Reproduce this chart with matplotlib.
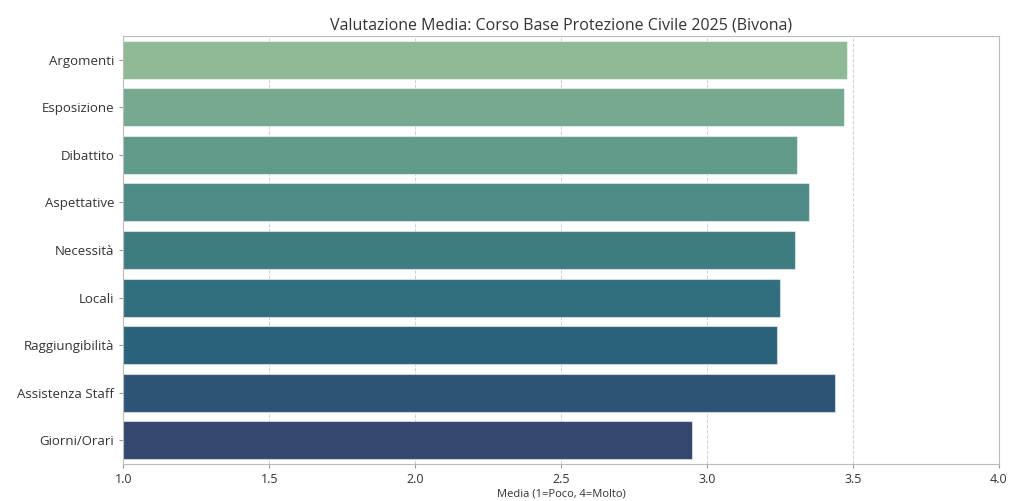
import matplotlib
matplotlib.use("Agg")
import matplotlib.pyplot as plt
import seaborn as sns

categories = ["Argomenti", "Esposizione", "Dibattito", "Aspettative", "Necessità",
              "Locali", "Raggiungibilità", "Assistenza Staff", "Giorni/Orari"]
means = [3.48, 3.47, 3.31, 3.35, 3.30, 3.25, 3.24, 3.44, 2.95]
xticks = [1.0, 1.5, 2.0, 2.5, 3.0, 3.5, 4.0]

plt.rcParams["font.family"] = ["Open Sans", "DejaVu Sans"]

fig = plt.figure(figsize=(10.10, 5.01), dpi=100)
ax = fig.add_axes([0.122, 0.074, 0.867, 0.854])

colors = sns.color_palette("crest", len(categories), desat=0.75)
ypos = list(range(len(categories)))
ax.barh(ypos, [m - 1.0 for m in means], left=1.0, height=0.8, color=colors,
        edgecolor=(1, 1, 1, 0.5), linewidth=0.8, zorder=2)

ax.set_yticks(ypos)
ax.set_yticklabels(categories, fontsize=9.5, color="#333333")
ax.set_ylim(len(categories) - 0.5, -0.5)
ax.set_xlim(1.0, 4.0)
ax.set_xticks(xticks)
ax.set_xticklabels([f"{t:.1f}" for t in xticks], fontsize=9, color="#333333")
ax.tick_params(axis="both", length=3, color="#999999")

ax.grid(axis="x", linestyle="--", color="#d0d0d0", linewidth=0.7, zorder=0)
ax.set_axisbelow(True)
for s in ax.spines.values():
    s.set_color("#bbbbbb")
    s.set_linewidth(0.8)

ax.set_title("Valutazione Media: Corso Base Protezione Civile 2025 (Bivona)",
             fontsize=11.5, color="#333333", pad=5)
ax.set_xlabel("Media (1=Poco, 4=Molto)", fontsize=8, color="#333333", labelpad=2)

fig.savefig("out.png", dpi=100)
